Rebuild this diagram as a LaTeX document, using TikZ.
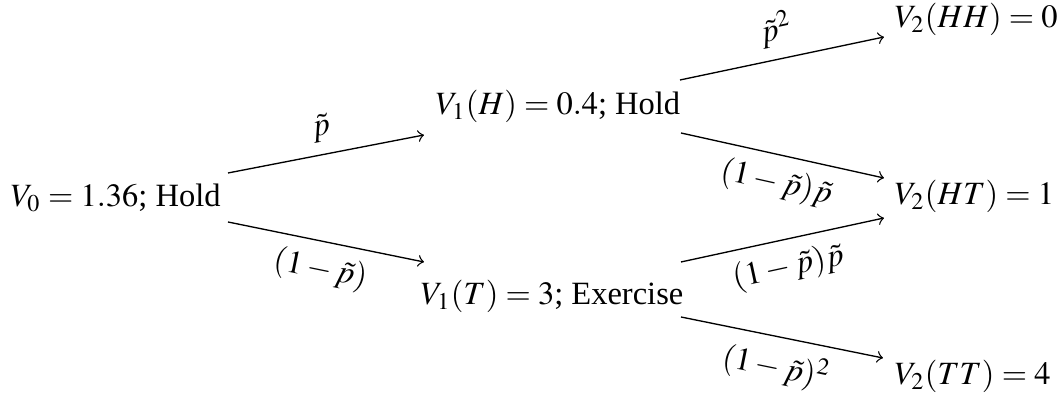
\documentclass[tikz,border=0pt]{standalone}
\usepackage{mathptmx}
\usepackage{fontspec}
\setmainfont{Liberation Serif}
\usetikzlibrary{calc}
\begin{document}
\begin{tikzpicture}[x=0.3pt,y=-0.3pt,
  state/.style={inner sep=0pt,anchor=base west,font=\fontsize{9.75}{12}\selectfont},
  arr/.style={->,line width=0.4pt},
  lab/.style={sloped,inner sep=3.5pt,font=\fontsize{9.75}{12}\selectfont},
  labb/.style={sloped,inner sep=3.5pt,font=\fontsize{9.75}{12}\selectfont}]
\useasboundingbox (0,0) rectangle (1060,399);
\node[state] (v0)  at (10,207)  {$V_0=1.36$; Hold};
\node[state] (v1h) at (435,115) {$V_1(H)=0.4$; Hold};
\node[state] (v1t) at (420,305) {$V_1(T)=3$; Exercise};
\node[state] (hh)  at (894,28)  {$V_2(HH)=0$};
\node[state] (ht)  at (894,205) {$V_2(HT)=1$};
\node[state] (tt)  at (894,385) {$V_2(TT)=4$};
\draw[arr] ($(v0.base west)+(218,-34)$) -- node[lab,above]{$\tilde{p}$} ($(v1h.base west)+(-11,20)$);
\draw[arr] ($(v0.base west)+(218,15)$) -- node[labb,below]{$(1-\tilde{p})$} ($(v1t.base west)+(4,-43)$);
\draw[arr] ($(v1h.base west)+(245,-35)$) -- node[lab,above]{$\tilde{p}^2$} ($(hh.base west)+(-10,9)$);
\draw[arr] ($(v1h.base west)+(246,18)$) -- node[labb,below]{$(1-\tilde{p})\tilde{p}$} ($(ht.base west)+(-10,-27)$);
\draw[arr] ($(v1t.base west)+(261,-43)$) -- node[labb,below]{$(1-\tilde{p})\tilde{p}$} ($(ht.base west)+(-10,13)$);
\draw[arr] ($(v1t.base west)+(261,12)$) -- node[labb,below]{$(1-\tilde{p})^2$} ($(tt.base west)+(-11,-27)$);
\end{tikzpicture}
\end{document}
